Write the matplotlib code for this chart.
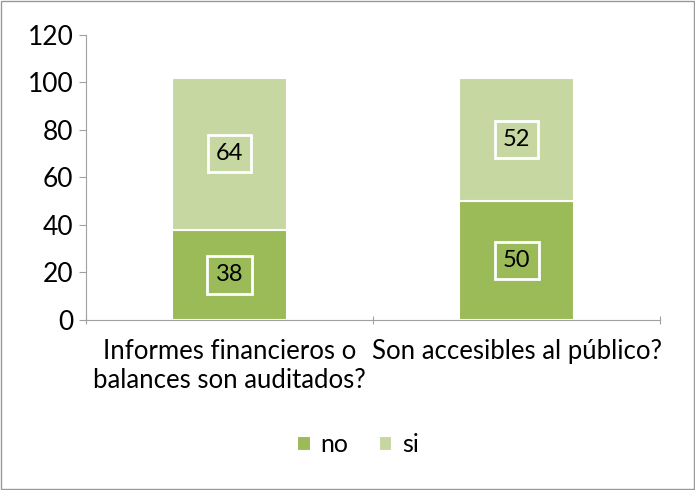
import matplotlib.pyplot as plt
import numpy as np

categories = ["Informes financieros o\nbalances son auditados?", "Son accesibles al público?"]
no_vals = [38, 50]
si_vals = [64, 52]
series_names = ["no", "si"]
colors = ["#9bbb59", "#c6d7a2"]

plt.rcParams["font.family"] = ["Lato", "DejaVu Sans"]

fig = plt.figure(figsize=(6.95, 4.9), dpi=100)
ax = fig.add_axes([0.1237, 0.347, 0.826, 0.582])

x = np.arange(len(categories))
b1 = ax.bar(x, no_vals, width=0.4, color=colors[0], edgecolor="white", linewidth=1.5, label=series_names[0])
b2 = ax.bar(x, si_vals, width=0.4, bottom=no_vals, color=colors[1], edgecolor="white", linewidth=1.5, label=series_names[1])

for bars, vals, bottoms, c in [(b1, no_vals, [0, 0], colors[0]), (b2, si_vals, no_vals, colors[1])]:
    for bar, v, b in zip(bars, vals, bottoms):
        ax.text(bar.get_x() + bar.get_width() / 2, b + v / 2, str(v), ha="center", va="center",
                fontsize=17, bbox=dict(boxstyle="square,pad=0.35", facecolor=c, edgecolor="white", linewidth=2))

ax.set_xlim(-0.5, 1.5)
ax.set_ylim(0, 120)
ax.set_yticks(range(0, 121, 20))
ax.set_xticks([-0.5, 0.5, 1.5], minor=False)
ax.set_xticklabels([])
ax.set_xticks(x, minor=True)
ax.set_xticklabels(categories, minor=True, fontsize=18.5, linespacing=1.2)
ax.tick_params(axis="x", which="minor", length=0, pad=14)
ax.tick_params(axis="x", which="major", length=6, direction="inout", color="#a0a0a0")
ax.tick_params(axis="y", length=5, direction="out", color="#a0a0a0", labelsize=19, pad=4)
for s in ["top", "right"]:
    ax.spines[s].set_visible(False)
for s in ["left", "bottom"]:
    ax.spines[s].set_color("#a0a0a0")

fig.legend(loc="center", bbox_to_anchor=(0.515, 0.092), ncol=2, frameon=False, fontsize=18,
           handlelength=0.55, handleheight=0.55, columnspacing=1.2, handletextpad=0.4)

fig.patches.append(plt.Rectangle((0.002, 0.002), 0.996, 0.996, transform=fig.transFigure,
                                 fill=False, edgecolor="#999999", linewidth=1))

fig.savefig("out.png", dpi=100)
